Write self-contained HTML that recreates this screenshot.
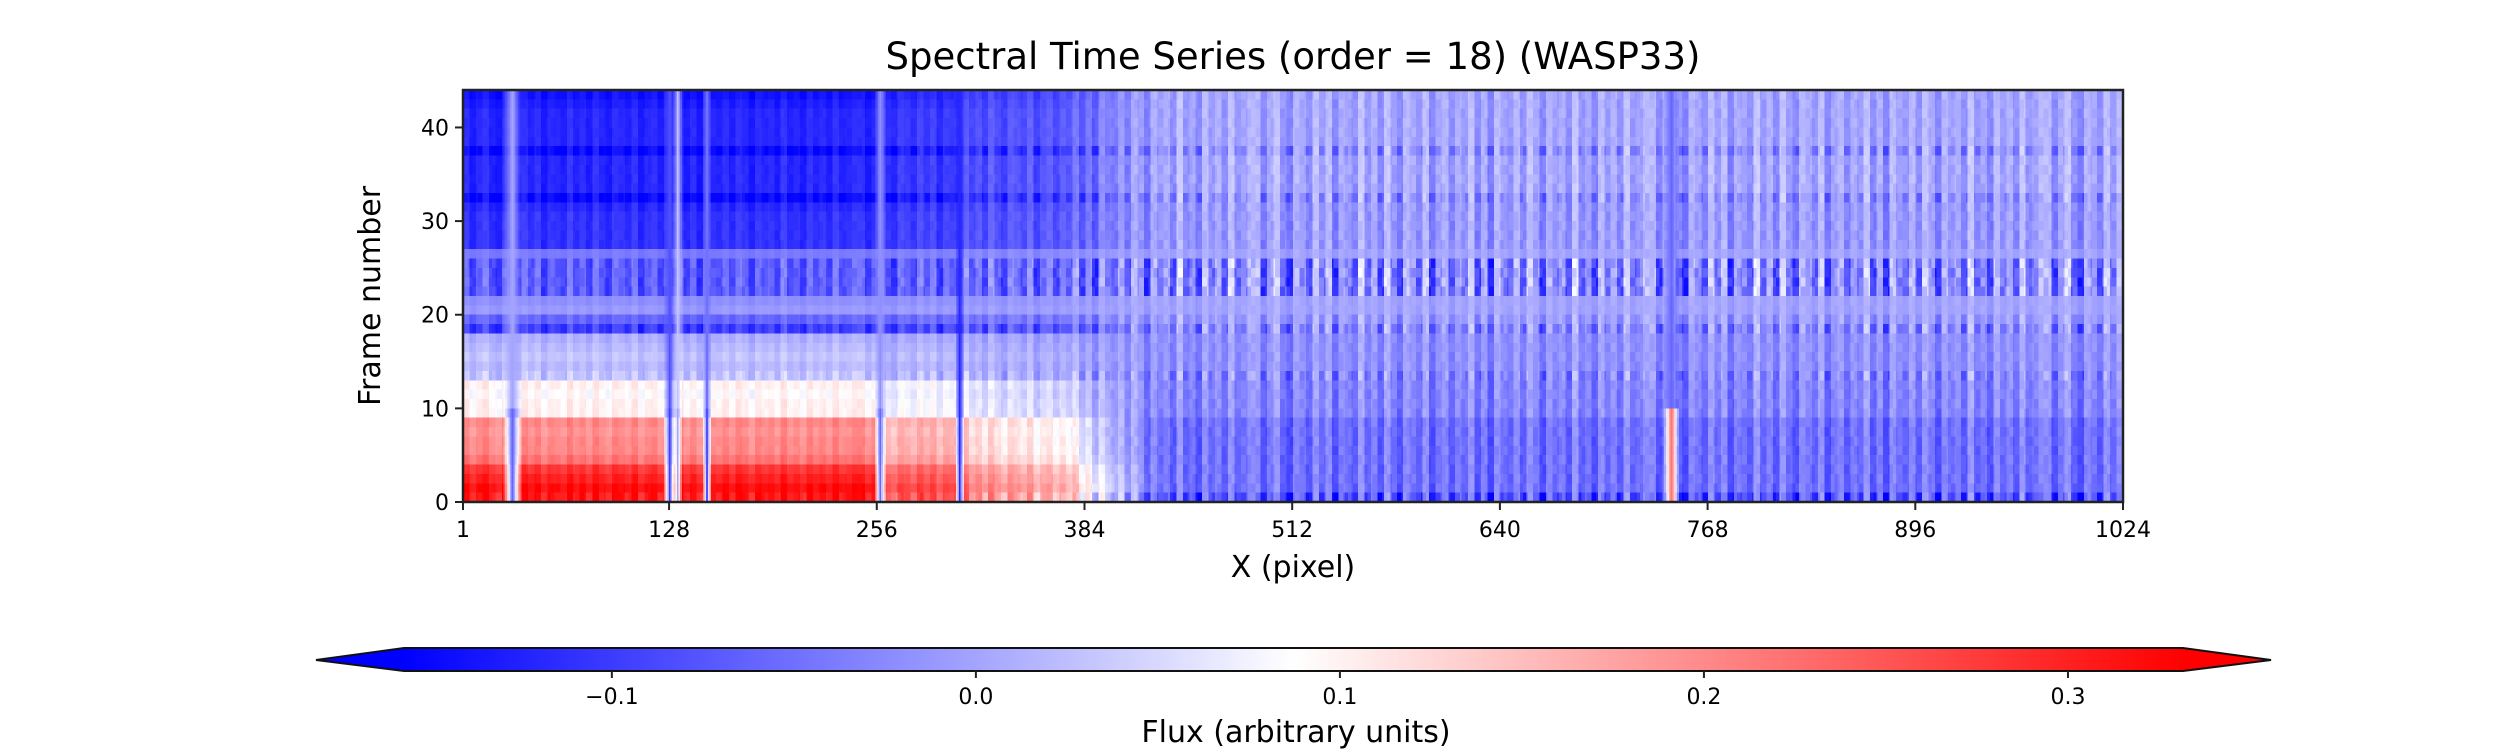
<!DOCTYPE html>
<html><head><meta charset="utf-8">
<style>
html,body{margin:0;padding:0;background:#fff;}
#wrap{position:relative;width:2520px;height:750px;overflow:hidden;font-family:"DejaVu Sans","Liberation Sans",sans-serif;}
#heat{position:absolute;left:463px;top:90px;width:1660px;height:412px;image-rendering:pixelated;}
svg{position:absolute;left:0;top:0;}
</style></head>
<body>
<div id="wrap">
<canvas id="heat" width="1024" height="44"></canvas>
<svg id="svg" width="2520" height="750">
  <defs>
    <linearGradient id="bwr" x1="0" x2="1" y1="0" y2="0">
      <stop offset="0" stop-color="#0000ff"/>
      <stop offset="0.5" stop-color="#ffffff"/>
      <stop offset="1" stop-color="#ff0000"/>
    </linearGradient>
  </defs>
  <text x="1293" y="69" text-anchor="middle" font-size="37">Spectral Time Series (order = 18) (WASP33)</text>
  <rect x="463" y="90" width="1660" height="412" fill="none" stroke="#222" stroke-width="2.5"/>
  <g id="xticks"></g>
  <g id="yticks"></g>
  <text x="1293" y="577" text-anchor="middle" font-size="30">X (pixel)</text>
  <text transform="translate(380,296) rotate(-90)" text-anchor="middle" font-size="30">Frame number</text>
  <g>
    <polygon points="316,660 404,648 404,671" fill="#0000ff"/>
    <polygon points="2271,660 2183,648 2183,671" fill="#ff0000"/>
    <rect x="404" y="648" width="1779" height="23" fill="url(#bwr)"/>
    <polygon points="316,660 404,648 2183,648 2271,660 2183,671 404,671" fill="none" stroke="#111" stroke-width="2"/>
    <g id="cticks"></g>
  </g>
  <text x="1296" y="742" text-anchor="middle" font-size="30">Flux (arbitrary units)</text>
</svg>
</div>
<script>
const vmin = -0.1571, vmax = 0.3316;
const nCols = 1024, nRows = 44;
const xTickValues = [1,128,256,384,512,640,768,896,1024];
const yTickValues = [0,10,20,30,40];
const cTickValues = [-0.1,0.0,0.1,0.2,0.3];
const cTickLabels = ["\u22120.1","0.0","0.1","0.2","0.3"];
// per-row flux level in the left (continuum-slope) region
const rowLeft = [0.31,0.32,0.30,0.28,0.22,0.20,0.20,0.19,0.20,0.10,0.10,0.09,0.10,0.03,0.02,0.03,0.02,0.01,-0.10,-0.06,-0.01,-0.02,-0.07,-0.07,-0.07,-0.07,-0.04,-0.11,-0.11,-0.11,-0.11,-0.12,-0.15,-0.12,-0.12,-0.12,-0.12,-0.15,-0.12,-0.12,-0.12,-0.12,-0.13,-0.14];
// per-row flux level in the right region
const rowRight = [-0.08,-0.05,-0.05,-0.05,-0.05,-0.05,-0.05,-0.05,-0.05,-0.03,-0.03,-0.03,-0.03,-0.03,-0.02,-0.02,-0.02,-0.02,-0.03,-0.01,0.0,0.0,-0.03,-0.03,-0.03,-0.03,0.0,-0.01,-0.01,-0.01,-0.01,-0.01,-0.02,0.0,0.0,0.0,0.0,-0.02,0.0,0.0,0.0,0.0,0.0,0.0];
// per-row stripe contrast
const rowStripe = [0.10,0.05,0.05,0.05,0.05,0.05,0.05,0.05,0.05,0.05,0.05,0.05,0.05,0.08,0.04,0.04,0.04,0.04,0.09,0.05,0.02,0.02,0.12,0.12,0.12,0.12,0.02,0.05,0.05,0.05,0.05,0.05,0.08,0.05,0.05,0.05,0.05,0.08,0.04,0.04,0.04,0.04,0.04,0.04];
// left-region weight breakpoints (column, weight)
const regionCols = [0,255,262,305,312,370,400,430,1024];
const regionWeights = [1,1,0.85,0.85,0.7,0.6,0.25,0,0];
// spectral line features
const lineCols = [30,127,132,150,257,306,745];
const lineHalfW = [5,3,2,2,3,2,4];
const lineValHigh = [0.0,-0.08,0.03,-0.05,-0.02,-0.12,-0.06];
const lineValLow = [-0.06,-0.10,0.0,-0.08,-0.06,-0.12,0.22];
// stripe texture values
const texA = [0.6,-0.8,0.2,0.9,-0.4,-1,0.5,0.1,-0.6,0.8,-0.2,0.7,-0.9,0.3,0.0,-0.5,1,-0.3,0.4,-0.7,0.9,-0.1,-0.8,0.6,0.2,-0.4,0.8,-0.9,0.1,0.5,-0.6,0.3,-0.2,0.9,-0.7,0.4,-1,0.7,0.0,-0.3,0.6,-0.5,0.8,0.2,-0.9,0.5,-0.1,0.3,-0.6,1,-0.4,0.1,-0.8,0.7,-0.2,0.4,-0.5,0.9,-0.3,0.0,0.6];
const texB = [-0.5,0.7,0.1,-0.9,0.4,0.8,-0.2,-0.6,0.9,0.0,-0.4,0.6,-0.8,0.3,0.5,-1,0.2,0.7,-0.3,-0.7,0.8,0.1,-0.5,0.4,0.9,-0.6,-0.1,0.6,-0.9,0.3,0.2,-0.4,0.7,-0.8,0.5,0.0,-0.3];

const X0=463, X1=2123, Y0=502, Y1=90;
function xScale(v){ return X0 + (v-1)/(nCols-1)*(X1-X0); }
function yScale(v){ return Y0 - v/nRows*(Y0-Y1); }
function cScale(v){ return 404 + (v-vmin)/(vmax-vmin)*1779; }
function bwr(v){
  let t=(v-vmin)/(vmax-vmin); t=Math.max(0,Math.min(1,t));
  if(t<0.5){const c=Math.round(510*t);return [c,c,255];}
  const c=Math.round(510*(1-t)); return [255,c,c];
}
function regionW(c){
  for(let i=0;i<regionCols.length-1;i++){
    if(c>=regionCols[i]&&c<=regionCols[i+1]){
      const f=(c-regionCols[i])/(regionCols[i+1]-regionCols[i]||1);
      return regionWeights[i]+(regionWeights[i+1]-regionWeights[i])*f;
    }
  }
  return 0;
}
function cellValue(c,r){
  const w=regionW(c);
  let v=w*rowLeft[r]+(1-w)*rowRight[r];
  const s=0.75*texA[Math.floor(c/4)%texA.length]+0.25*texB[(Math.floor(c/3)+r*5)%texB.length];
  const amp=rowStripe[r]*(0.45+0.55*(1-w));
  v+=s*amp;
  for(let i=0;i<lineCols.length;i++){
    const d=Math.abs(c-lineCols[i]);
    if(d<=lineHalfW[i]){
      const lv=(r<10)?lineValLow[i]:lineValHigh[i];
      const k=1-d/(lineHalfW[i]+1);
      v=v*(1-k)+lv*k;
    }
  }
  return v;
}
const cv=document.getElementById('heat');
const ctx=cv.getContext('2d');
const img=ctx.createImageData(nCols,nRows);
for(let r=0;r<nRows;r++){
  for(let c=0;c<nCols;c++){
    const col=bwr(cellValue(c,r));
    const idx=((nRows-1-r)*nCols+c)*4;
    img.data[idx]=col[0];img.data[idx+1]=col[1];img.data[idx+2]=col[2];img.data[idx+3]=255;
  }
}
ctx.putImageData(img,0,0);

const NS='http://www.w3.org/2000/svg';
function mk(tag,attrs,parent){const e=document.createElementNS(NS,tag);for(const k in attrs)e.setAttribute(k,attrs[k]);parent.appendChild(e);return e;}
const gx=document.getElementById('xticks');
xTickValues.forEach(v=>{
  const x=xScale(v);
  const l=mk('line',{x1:x,x2:x,y1:502,y2:510,stroke:'#222','stroke-width':2},gx);
  
  
  const t=mk('text',{x:x,y:537,'text-anchor':'middle','font-size':22},gx);
  
  
  t.textContent=String(v);
});
const gy=document.getElementById('yticks');
yTickValues.forEach(v=>{
  const y=yScale(v);
  const l=mk('line',{x1:455,x2:463,y1:y,y2:y,stroke:'#222','stroke-width':2},gy);
  
  
  const t=mk('text',{x:449,y:y+8,'text-anchor':'end','font-size':22},gy);
  
  
  t.textContent=String(v);
});
const gc=document.getElementById('cticks');
cTickValues.forEach((v,i)=>{
  const x=cScale(v);
  const l=mk('line',{x1:x,x2:x,y1:671,y2:678,stroke:'#222','stroke-width':2},gc);
  
  
  const t=mk('text',{x:x,y:704,'text-anchor':'middle','font-size':22},gc);
  
  
  t.textContent=cTickLabels[i];
});
</script>
</body></html>
